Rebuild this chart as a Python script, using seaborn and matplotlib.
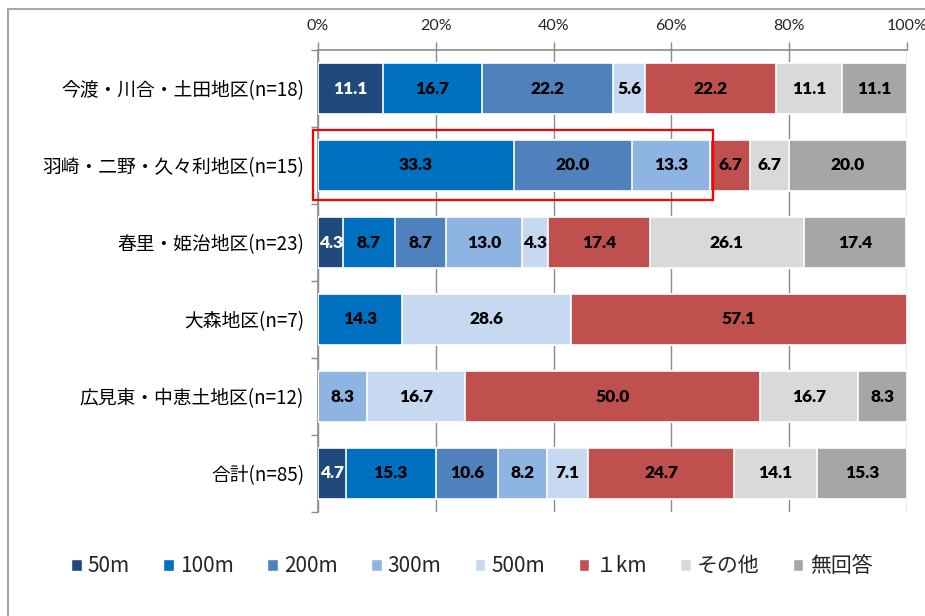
import numpy as np
import pandas as pd
import matplotlib
matplotlib.use("Agg")
import matplotlib.pyplot as plt
from matplotlib.patches import Rectangle, Patch
from matplotlib.lines import Line2D
import seaborn as sns

categories = ["今渡・川合・土田地区(n=18)", "羽崎・二野・久々利地区(n=15)", "春里・姫治地区(n=23)",
              "大森地区(n=7)", "広見東・中恵土地区(n=12)", "合計(n=85)"]
series_names = ["50m", "100m", "200m", "300m", "500m", "１km", "その他", "無回答"]
v_50m = [11.1, 0.0, 4.3, 0.0, 0.0, 4.7]
v_100m = [16.7, 33.3, 8.7, 14.3, 0.0, 15.3]
v_200m = [22.2, 20.0, 8.7, 0.0, 0.0, 10.6]
v_300m = [0.0, 13.3, 13.0, 0.0, 8.3, 8.2]
v_500m = [5.6, 0.0, 4.3, 28.6, 16.7, 7.1]
v_1km = [22.2, 6.7, 17.4, 57.1, 50.0, 24.7]
v_other = [11.1, 6.7, 26.1, 0.0, 16.7, 14.1]
v_noans = [11.1, 20.0, 17.4, 0.0, 8.3, 15.3]
xtick_vals = [0, 20, 40, 60, 80, 100]
xtick_labels = ["0%", "20%", "40%", "60%", "80%", "100%"]

colors = ["#1F497D", "#0070C0", "#4F81BD", "#8EB4E3", "#C6D9F1", "#C0504D", "#D9D9D9", "#A6A6A6"]
label_colors = ["white", "black", "black", "black", "black", "black", "black", "black"]

sns.set_theme(style="white")
plt.rcParams["font.family"] = ["Noto Sans CJK JP", "DejaVu Sans"]

data = np.array([v_50m, v_100m, v_200m, v_300m, v_500m, v_1km, v_other, v_noans])
cum = np.cumsum(data, axis=0)

fig = plt.figure(figsize=(9.25, 6.16), dpi=100)
ax = fig.add_axes([318/925, 1-512/616, (907-318)/925, (512-50)/616])

for i in range(len(series_names)-1, -1, -1):
    df = pd.DataFrame({"cat": categories, "val": cum[i]})
    sns.barplot(data=df, x="val", y="cat", orient="h", color=colors[i], width=0.66,
                edgecolor="white", linewidth=1.2, saturation=1, ax=ax, zorder=3)

for i in range(len(series_names)):
    for j in range(len(categories)):
        v = data[i, j]
        if v <= 0:
            continue
        c = cum[i, j] - v / 2
        ax.text(c, j, f"{v:.1f}", ha="center", va="center", fontsize=12.5,
                fontweight="heavy", color=label_colors[i], family=["Lato", "DejaVu Sans"], zorder=5)

ax.set_xlim(0, 100)
ax.set_ylim(len(categories)-0.5, -0.5)
ax.xaxis.tick_top()
ax.set_xticks(xtick_vals)
ax.set_xticklabels(xtick_labels, family=["Lato", "DejaVu Sans"], fontsize=11.5)
ax.set_xlabel("")
ax.set_ylabel("")
ax.set_yticks(range(len(categories)))
ax.set_yticklabels(categories, fontsize=13.5)
ax.set_yticks(np.arange(-0.5, len(categories)), minor=True)
ax.tick_params(axis="y", which="major", length=0, pad=10, colors="black")
ax.tick_params(axis="y", which="minor", length=5, width=1, color="#8c8c8c", left=True)
ax.tick_params(axis="x", which="major", length=6, width=1, color="#8c8c8c", top=True, direction="out", pad=6)
ax.grid(axis="x", color="#8c8c8c", linewidth=1, zorder=0)
ax.set_axisbelow(True)
for s in ["right", "bottom"]:
    ax.spines[s].set_visible(False)
for s in ["top", "left"]:
    ax.spines[s].set_color("#8c8c8c")
    ax.spines[s].set_linewidth(1.2)

# highlight rectangle around 100m-300m of second row
x0 = -0.85
x1 = cum[3, 1] + 0.5
rect = Rectangle((x0, 1 - 0.455), x1 - x0, 0.9, fill=False, edgecolor="#FF0000",
                 linewidth=1.6, clip_on=False, zorder=6)
ax.add_patch(rect)

# legend
handles = [Patch(facecolor=colors[i], edgecolor="white", label=series_names[i]) for i in range(len(series_names))]
fig.legend(handles=handles, loc="center", bbox_to_anchor=(0.51, 1-566/616), ncol=8, frameon=False,
           fontsize=15, handlelength=0.5, handleheight=0.5, handletextpad=0.3, columnspacing=1.6)

# outer border
fig.add_artist(Line2D([8/925, 1], [1-9/616, 1-9/616], color="#a6a6a6", linewidth=1.5, transform=fig.transFigure))
fig.add_artist(Line2D([8/925, 8/925], [0, 1-9/616], color="#a6a6a6", linewidth=1.5, transform=fig.transFigure))

fig.savefig("out.png", dpi=100)
